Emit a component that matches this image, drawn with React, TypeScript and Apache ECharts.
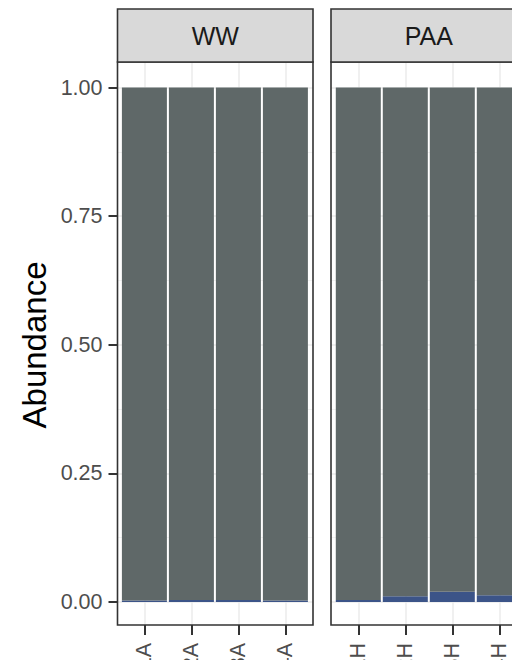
import React, { useEffect, useRef } from "react";
import * as echarts from "echarts";

// ---- data ----
const panelNames = ["WW", "PAA"];
const wwSamples = ["WW_1A", "WW_2A", "WW_3A", "WW_4A"];
const paaSamples = ["PAA_1H", "PAA_2H", "PAA_3H", "PAA_4H"];
const wwBlue = [0.003, 0.004, 0.004, 0.003];
const wwGray = [0.997, 0.996, 0.996, 0.997];
const paaBlue = [0.004, 0.011, 0.02, 0.013];
const paaGray = [0.996, 0.989, 0.98, 0.987];
const yAxisTitle = "Abundance";

// ---- layout / style ----
const FONT = "'Liberation Sans', Arial, sans-serif";
const BLUE = "#3C5488";
const GRAY = "#5F6868";
const GRID_COL = "#EBEBEB";
const BORDER = "#333333";
const STRIP_TOP = 9;
const PANEL_TOP = 62;
const PANEL_BOTTOM = 625;
const Y1 = 87.5;
const Y0 = 602;
const CAT_W = 47;
const panelsLayout = [
  { left: 117.5, width: 195.5, first: 144.4 },
  { left: 331, width: 195.5, first: 358.3 },
];

export default function App() {
  const ref = useRef<HTMLDivElement>(null);
  useEffect(() => {
    if (!ref.current) return;
    const chart = echarts.init(ref.current, null, { renderer: "svg" });
    const unit = Y0 - Y1;
    const vMin = -(PANEL_BOTTOM - Y0) / unit;
    const vMax = 1 + (Y1 - PANEL_TOP) / unit;
    const samples = [wwSamples, paaSamples];
    const blues = [wwBlue, paaBlue];
    const grays = [wwGray, paaGray];

    const grid: any[] = [];
    const xAxis: any[] = [];
    const yAxis: any[] = [];
    const series: any[] = [];
    const graphic: any[] = [];

    panelsLayout.forEach((p, i) => {
      // H grid: horizontal grid lines and y labels
      grid.push({
        left: p.left,
        top: Y1,
        width: p.width,
        height: unit,
        containLabel: false,
        outerBoundsMode: "none",
      });
      xAxis.push({ type: "value", gridIndex: 2 * i, min: 0, max: 1, show: false });
      yAxis.push({
        type: "value",
        gridIndex: 2 * i,
        min: 0,
        max: 1,
        interval: 0.25,
        axisLine: { show: false },
        axisTick: { show: i === 0, length: 9, lineStyle: { color: BORDER, width: 2 } },
        axisLabel: {
          show: i === 0,
          margin: 15,
          color: "#4D4D4D",
          fontSize: 21.5,
          fontFamily: FONT,
          verticalAlign: "middle",
          padding: [0, 0, 12, 0],
          formatter: (v: number) => v.toFixed(2),
        },
        splitLine: { show: true, lineStyle: { color: GRID_COL, width: 1.5 } },
        minorTick: { show: false, splitNumber: 2 },
        minorSplitLine: { show: true, lineStyle: { color: "#F3F3F3", width: 1 } },
      });
      // V grid: categories, bars, vertical grid lines
      const cats = samples[i];
      grid.push({
        left: p.first,
        top: PANEL_TOP,
        width: CAT_W * (cats.length - 1),
        height: PANEL_BOTTOM - PANEL_TOP,
        containLabel: false,
        outerBoundsMode: "none",
      });
      xAxis.push({
        type: "category",
        gridIndex: 2 * i + 1,
        data: cats,
        boundaryGap: false,
        axisLine: { show: false, onZero: false },
        axisTick: { show: true, interval: 0, length: 10, lineStyle: { color: BORDER, width: 2 } },
        axisLabel: {
          interval: 0,
          rotate: 90,
          margin: 18,
          color: "#4D4D4D",
          fontSize: 21.5,
          fontFamily: FONT,
        },
        splitLine: { show: true, interval: 0, lineStyle: { color: GRID_COL, width: 1.5 } },
      });
      yAxis.push({ type: "value", gridIndex: 2 * i + 1, min: vMin, max: vMax, show: false });
      series.push({
        type: "bar",
        name: "blue",
        xAxisIndex: 2 * i + 1,
        yAxisIndex: 2 * i + 1,
        stack: "s" + i,
        barWidth: 45,
        clip: false,
        itemStyle: { color: BLUE },
        data: blues[i],
      });
      series.push({
        type: "bar",
        name: "gray",
        xAxisIndex: 2 * i + 1,
        yAxisIndex: 2 * i + 1,
        stack: "s" + i,
        barWidth: 45,
        clip: false,
        itemStyle: { color: GRAY },
        data: grays[i],
      });
      // panel border
      graphic.push({
        type: "rect",
        z: 100,
        shape: { x: p.left, y: PANEL_TOP, width: p.width, height: PANEL_BOTTOM - PANEL_TOP },
        style: { fill: "none", stroke: BORDER, lineWidth: 1.6 },
      });
      // strip
      graphic.push({
        type: "rect",
        z: 100,
        shape: { x: p.left, y: STRIP_TOP, width: p.width, height: PANEL_TOP - STRIP_TOP },
        style: { fill: "#D9D9D9", stroke: BORDER, lineWidth: 1.6 },
      });
      graphic.push({
        type: "text",
        z: 101,
        x: p.left + p.width / 2,
        y: (STRIP_TOP + PANEL_TOP) / 2 + 0.5,
        style: {
          text: panelNames[i],
          fill: "#1A1A1A",
          font: `25px ${FONT}`,
          textAlign: "center",
          textVerticalAlign: "middle",
        },
      });
    });

    graphic.push({
      type: "text",
      z: 101,
      x: 34,
      y: 345,
      rotation: Math.PI / 2,
      style: {
        text: yAxisTitle,
        fill: "#000000",
        font: `33px ${FONT}`,
        textAlign: "center",
        textVerticalAlign: "middle",
      },
    });

    chart.setOption({
      animation: false,
      backgroundColor: "#FFFFFF",
      grid,
      xAxis,
      yAxis,
      series,
      graphic,
    });
    return () => chart.dispose();
  }, []);
  return (
    <div
      ref={ref}
      style={{ position: "fixed", left: 0, top: 0, width: 512, height: 660 }}
    />
  );
}
